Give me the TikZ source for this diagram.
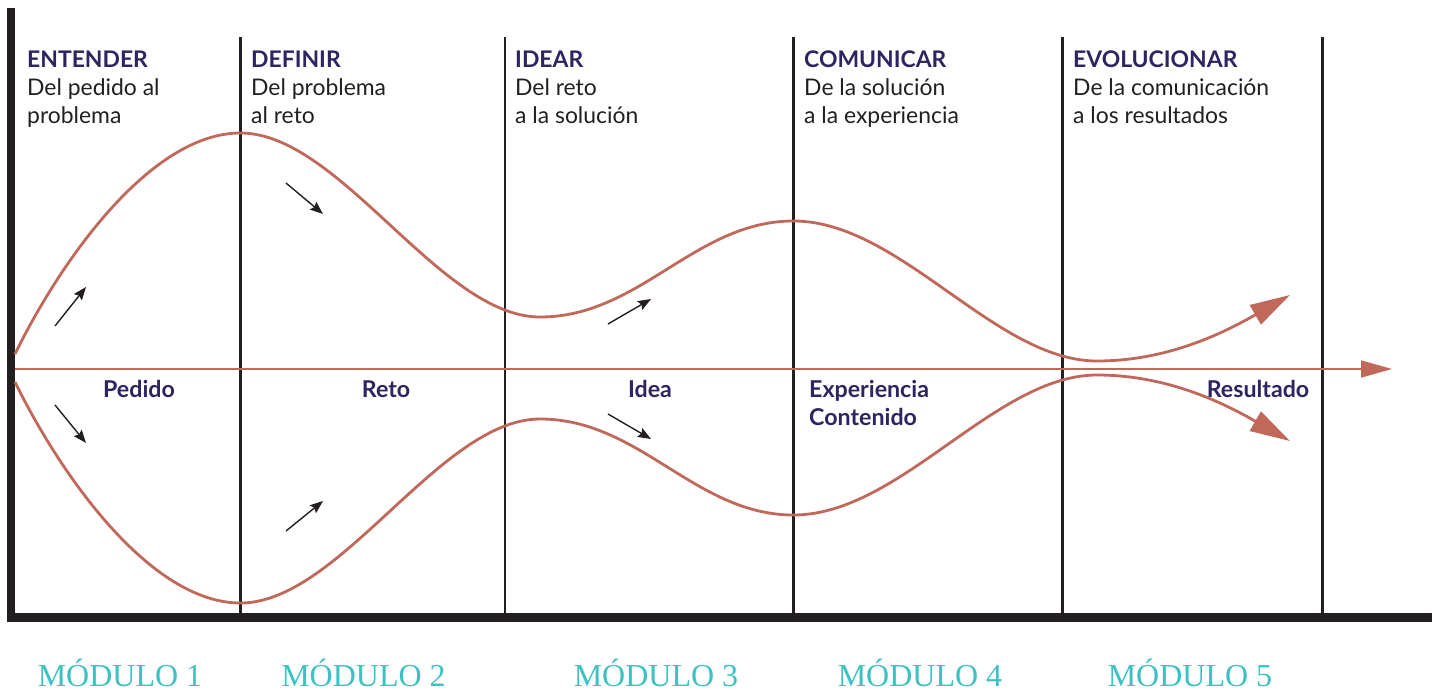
\documentclass[tikz,border=0pt]{standalone}
\usepackage{fontspec}
\setmainfont{Lato}
\newfontfamily\modfont{Liberation Serif}
\usetikzlibrary{arrows.meta}
\definecolor{curvecol}{HTML}{C0685A}
\definecolor{titlecol}{HTML}{2D2561}
\definecolor{inkcol}{HTML}{231F20}
\definecolor{modcol}{HTML}{3EC1C3}
\begin{document}
\begin{tikzpicture}[x=1pt,y=-1pt,
  axisline/.style={line width=8.5pt, draw=inkcol},
  divline/.style={line width=2.8pt, draw=inkcol},
  flow/.style={line width=2.8pt, draw=curvecol, -{Triangle[length=40pt,width=22pt,fill=curvecol]}},
  midline/.style={line width=1.6pt, draw=curvecol, -{Triangle[length=31pt,width=17pt,fill=curvecol]}},
  hint/.style={line width=1.4pt, draw=inkcol, -{Stealth[length=13pt,width=10pt,inset=2pt]}},
  title/.style={anchor=base west, inner sep=0pt, font=\fontsize{22.9}{28}\selectfont\bfseries, text=titlecol},
  body/.style={anchor=base west, inner sep=0pt, font=\fontsize{22.9}{28}\selectfont, text=inkcol},
  stage/.style={anchor=base, inner sep=0pt, font=\fontsize{23.2}{28}\selectfont\bfseries, text=titlecol},
  stagel/.style={anchor=base west, inner sep=0pt, font=\fontsize{23.2}{28}\selectfont\bfseries, text=titlecol},
  module/.style={anchor=base, inner sep=0pt, font=\modfont\fontsize{32}{36}\selectfont, text=modcol}]
\useasboundingbox (0,0) rectangle (1440,691);

% axes
\coordinate (axTop) at (11,8);
\coordinate (axCorner) at (11,617.5);
\coordinate (axRight) at (1432,617.5);
\draw[axisline] (axTop) -- (11,621.75);
\draw[axisline] (6.75,617.5) -- (axRight);

% dividers
\foreach \n/\x in {d1/240.5,d2/505,d3/793.5,d4/1062.5,d5/1322.5}{
  \coordinate (\n t) at (\x,37);
  \coordinate (\n b) at (\x,613);
  \draw[divline] (\n t) -- (\n b);
}

% middle axis
\coordinate (mS) at (15,369);
\coordinate (mE) at (1392,369);
\draw[midline] (mS) -- (mE);

% upper curve
\coordinate (u0) at (15,354);
\coordinate (u1) at (240.5,133);
\coordinate (u2) at (540,317);
\coordinate (u3) at (793.5,221);
\coordinate (u4) at (1097,361);
\coordinate (u5) at (1290,295);
\draw[flow] (u0) .. controls (60,262) and (150,133) .. (u1)
  .. controls (340,133) and (440,317) .. (u2)
  .. controls (640,317) and (695,221) .. (u3)
  .. controls (900,221) and (995,361) .. (u4)
  .. controls (1165,361) and (1220,335) .. (u5);

% lower curve
\coordinate (l0) at (15,382);
\coordinate (l1) at (240.5,603);
\coordinate (l2) at (540,419);
\coordinate (l3) at (793.5,515);
\coordinate (l4) at (1097,375);
\coordinate (l5) at (1290,441);
\draw[flow] (l0) .. controls (60,474) and (150,603) .. (l1)
  .. controls (340,603) and (440,419) .. (l2)
  .. controls (640,419) and (695,515) .. (l3)
  .. controls (900,515) and (995,375) .. (l4)
  .. controls (1165,375) and (1220,401) .. (l5);

% small hint arrows
\coordinate (h1a) at (55,326); \coordinate (h1b) at (86,287);
\coordinate (h2a) at (55,405); \coordinate (h2b) at (86,443);
\coordinate (h3a) at (286,183); \coordinate (h3b) at (323,214);
\coordinate (h4a) at (286,531); \coordinate (h4b) at (323,501);
\coordinate (h5a) at (608,324); \coordinate (h5b) at (651,299);
\coordinate (h6a) at (608,414); \coordinate (h6b) at (651,439);
\foreach \i in {1,...,6}{ \draw[hint] (h\i a) -- (h\i b); }

% headings
\node[title] (t1) at (27,67) {ENTENDER};
\node[body] (b1a) at (27,95) {Del pedido al};
\node[body] (b1b) at (27,123) {problema};
\node[title] (t2) at (251,67) {DEFINIR};
\node[body] (b2a) at (251,95) {Del problema};
\node[body] (b2b) at (251,123) {al reto};
\node[title] (t3) at (515,67) {IDEAR};
\node[body] (b3a) at (515,95) {Del reto};
\node[body] (b3b) at (515,123) {a la solución};
\node[title] (t4) at (804,67) {COMUNICAR};
\node[body] (b4a) at (804,95) {De la solución};
\node[body] (b4b) at (804,123) {a la experiencia};
\node[title] (t5) at (1073,67) {EVOLUCIONAR};
\node[body] (b5a) at (1073,95) {De la comunicación};
\node[body] (b5b) at (1073,123) {a los resultados};

% stage labels
\node[stage] (s1) at (139,397) {Pedido};
\node[stage] (s2) at (386,397) {Reto};
\node[stage] (s3) at (650,397) {Idea};
\node[stagel] (s4a) at (809,397) {Experiencia};
\node[stagel] (s4b) at (809,425) {Contenido};
\node[stage] (s5) at (1258,397) {Resultado};

% modules
\node[module] (m1) at (120,686) {MÓDULO 1};
\node[module] (m2) at (363.5,686) {MÓDULO 2};
\node[module] (m3) at (656,686) {MÓDULO 3};
\node[module] (m4) at (920,686) {MÓDULO 4};
\node[module] (m5) at (1190,686) {MÓDULO 5};
\end{tikzpicture}
\end{document}
